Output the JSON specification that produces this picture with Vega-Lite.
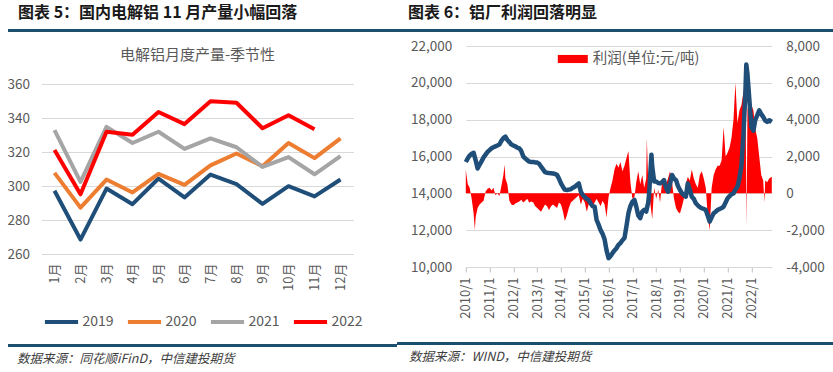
{
  "$schema": "https://vega.github.io/schema/vega-lite/v6.json",
  "background": "white",
  "padding": {"left": 7, "top": 5, "right": 0, "bottom": 0},
  "spacing": 0,
  "resolve": {"scale": {"color": "independent", "strokeWidth": "independent"}, "legend": {"color": "independent", "strokeWidth": "independent"}},
  "config": {
    "view": {"stroke": null},
    "concat": {"spacing": 0},
    "font": "Noto Sans CJK SC",
    "axis": {"labelFont": "Noto Sans CJK SC"},
    "legend": {"labelFont": "Noto Sans CJK SC"}
  },
  "datasets": {
    "prod": [
      {"year": "2019", "month": "1月", "value": 297.2}, {"year": "2019", "month": "2月", "value": 268.5}, {"year": "2019", "month": "3月", "value": 298.5}, {"year": "2019", "month": "4月", "value": 289.3}, {"year": "2019", "month": "5月", "value": 304.4}, {"year": "2019", "month": "6月", "value": 293.3}, {"year": "2019", "month": "7月", "value": 306.7}, {"year": "2019", "month": "8月", "value": 301.1}, {"year": "2019", "month": "9月", "value": 289.5}, {"year": "2019", "month": "10月", "value": 299.9}, {"year": "2019", "month": "11月", "value": 293.9}, {"year": "2019", "month": "12月", "value": 303.8},
      {"year": "2020", "month": "1月", "value": 307.7}, {"year": "2020", "month": "2月", "value": 287.3}, {"year": "2020", "month": "3月", "value": 303.8}, {"year": "2020", "month": "4月", "value": 296.2}, {"year": "2020", "month": "5月", "value": 307.1}, {"year": "2020", "month": "6月", "value": 300.7}, {"year": "2020", "month": "7月", "value": 312.1}, {"year": "2020", "month": "8月", "value": 319.1}, {"year": "2020", "month": "9月", "value": 311.6}, {"year": "2020", "month": "10月", "value": 325.3}, {"year": "2020", "month": "11月", "value": 316.4}, {"year": "2020", "month": "12月", "value": 328.0},
      {"year": "2021", "month": "1月", "value": 332.9}, {"year": "2021", "month": "2月", "value": 302.4}, {"year": "2021", "month": "3月", "value": 334.8}, {"year": "2021", "month": "4月", "value": 325.3}, {"year": "2021", "month": "5月", "value": 331.9}, {"year": "2021", "month": "6月", "value": 321.8}, {"year": "2021", "month": "7月", "value": 328.0}, {"year": "2021", "month": "8月", "value": 322.8}, {"year": "2021", "month": "9月", "value": 311.2}, {"year": "2021", "month": "10月", "value": 317.0}, {"year": "2021", "month": "11月", "value": 306.9}, {"year": "2021", "month": "12月", "value": 317.6},
      {"year": "2022", "month": "1月", "value": 321.2}, {"year": "2022", "month": "2月", "value": 295.1}, {"year": "2022", "month": "3月", "value": 331.9}, {"year": "2022", "month": "4月", "value": 330.2}, {"year": "2022", "month": "5月", "value": 343.5}, {"year": "2022", "month": "6月", "value": 336.4}, {"year": "2022", "month": "7月", "value": 349.9}, {"year": "2022", "month": "8月", "value": 349.0}, {"year": "2022", "month": "9月", "value": 334.0}, {"year": "2022", "month": "10月", "value": 341.6}, {"year": "2022", "month": "11月", "value": 333.4}
    ],
    "price": [
      {"d": "2010/01/01", "v": 15700}, {"d": "2010/02/01", "v": 15900}, {"d": "2010/03/01", "v": 16050}, {"d": "2010/04/01", "v": 16150}, {"d": "2010/05/01", "v": 16200}, {"d": "2010/06/01", "v": 15800}, {"d": "2010/07/01", "v": 15350}, {"d": "2010/08/01", "v": 15550}, {"d": "2010/09/01", "v": 15750}, {"d": "2010/10/01", "v": 15950}, {"d": "2010/11/01", "v": 16100}, {"d": "2010/12/01", "v": 16250},
      {"d": "2011/01/01", "v": 16350}, {"d": "2011/02/01", "v": 16450}, {"d": "2011/03/01", "v": 16500}, {"d": "2011/04/01", "v": 16550}, {"d": "2011/05/01", "v": 16600}, {"d": "2011/06/01", "v": 16650}, {"d": "2011/07/01", "v": 16850}, {"d": "2011/08/01", "v": 17000}, {"d": "2011/09/01", "v": 17080}, {"d": "2011/10/01", "v": 16900}, {"d": "2011/11/01", "v": 16780}, {"d": "2011/12/01", "v": 16650},
      {"d": "2012/01/01", "v": 16600}, {"d": "2012/02/01", "v": 16550}, {"d": "2012/03/01", "v": 16480}, {"d": "2012/04/01", "v": 16440}, {"d": "2012/05/01", "v": 16300}, {"d": "2012/06/01", "v": 16000}, {"d": "2012/07/01", "v": 15900}, {"d": "2012/08/01", "v": 15800}, {"d": "2012/09/01", "v": 15720}, {"d": "2012/10/01", "v": 15700}, {"d": "2012/11/01", "v": 15700}, {"d": "2012/12/01", "v": 15680},
      {"d": "2013/01/01", "v": 15670}, {"d": "2013/02/01", "v": 15600}, {"d": "2013/03/01", "v": 15450}, {"d": "2013/04/01", "v": 15300}, {"d": "2013/05/01", "v": 15150}, {"d": "2013/06/01", "v": 15120}, {"d": "2013/07/01", "v": 15100}, {"d": "2013/08/01", "v": 15090}, {"d": "2013/09/01", "v": 15080}, {"d": "2013/10/01", "v": 15050}, {"d": "2013/11/01", "v": 15000}, {"d": "2013/12/01", "v": 14800},
      {"d": "2014/01/01", "v": 14540}, {"d": "2014/02/01", "v": 14350}, {"d": "2014/03/01", "v": 14200}, {"d": "2014/04/01", "v": 14180}, {"d": "2014/05/01", "v": 14200}, {"d": "2014/06/01", "v": 14220}, {"d": "2014/07/01", "v": 14300}, {"d": "2014/08/01", "v": 14360}, {"d": "2014/09/01", "v": 14450}, {"d": "2014/10/01", "v": 14540}, {"d": "2014/11/01", "v": 14100}, {"d": "2014/12/01", "v": 13910},
      {"d": "2015/01/01", "v": 13800}, {"d": "2015/02/01", "v": 13700}, {"d": "2015/03/01", "v": 13640}, {"d": "2015/04/01", "v": 13450}, {"d": "2015/05/01", "v": 13300}, {"d": "2015/06/01", "v": 13280}, {"d": "2015/07/01", "v": 12560}, {"d": "2015/08/01", "v": 12300}, {"d": "2015/09/01", "v": 12000}, {"d": "2015/10/01", "v": 11800}, {"d": "2015/11/01", "v": 11500}, {"d": "2015/12/01", "v": 10900},
      {"d": "2016/01/01", "v": 10480}, {"d": "2016/02/01", "v": 10600}, {"d": "2016/03/01", "v": 10750}, {"d": "2016/04/01", "v": 10900}, {"d": "2016/05/01", "v": 11020}, {"d": "2016/06/01", "v": 11200}, {"d": "2016/07/01", "v": 11300}, {"d": "2016/08/01", "v": 11450}, {"d": "2016/09/01", "v": 11570}, {"d": "2016/10/01", "v": 12200}, {"d": "2016/11/01", "v": 12920}, {"d": "2016/12/01", "v": 13300},
      {"d": "2017/01/01", "v": 13550}, {"d": "2017/02/01", "v": 13640}, {"d": "2017/03/01", "v": 13280}, {"d": "2017/04/01", "v": 12800}, {"d": "2017/05/01", "v": 12650}, {"d": "2017/06/01", "v": 13000}, {"d": "2017/07/01", "v": 13100}, {"d": "2017/08/01", "v": 13010}, {"d": "2017/09/01", "v": 13500}, {"d": "2017/09/15", "v": 14000}, {"d": "2017/10/01", "v": 15000}, {"d": "2017/10/20", "v": 16100}, {"d": "2017/11/01", "v": 15450}, {"d": "2017/12/01", "v": 14640},
      {"d": "2018/01/01", "v": 14640}, {"d": "2018/02/01", "v": 14560}, {"d": "2018/03/01", "v": 14540}, {"d": "2018/04/01", "v": 14600}, {"d": "2018/05/01", "v": 14720}, {"d": "2018/06/01", "v": 14300}, {"d": "2018/07/01", "v": 14090}, {"d": "2018/08/01", "v": 14500}, {"d": "2018/09/01", "v": 15000}, {"d": "2018/10/01", "v": 14800}, {"d": "2018/11/01", "v": 14720}, {"d": "2018/12/01", "v": 14400},
      {"d": "2019/01/01", "v": 14180}, {"d": "2019/02/01", "v": 14000}, {"d": "2019/03/01", "v": 13900}, {"d": "2019/04/01", "v": 13820}, {"d": "2019/05/01", "v": 14540}, {"d": "2019/06/01", "v": 14200}, {"d": "2019/07/01", "v": 13820}, {"d": "2019/08/01", "v": 13700}, {"d": "2019/09/01", "v": 13460}, {"d": "2019/10/01", "v": 13350}, {"d": "2019/11/01", "v": 13250}, {"d": "2019/12/01", "v": 13190},
      {"d": "2020/01/01", "v": 13150}, {"d": "2020/02/01", "v": 13100}, {"d": "2020/03/01", "v": 12800}, {"d": "2020/04/01", "v": 12470}, {"d": "2020/05/01", "v": 12700}, {"d": "2020/06/01", "v": 12920}, {"d": "2020/07/01", "v": 13000}, {"d": "2020/08/01", "v": 13100}, {"d": "2020/09/01", "v": 13150}, {"d": "2020/10/01", "v": 13200}, {"d": "2020/11/01", "v": 13280}, {"d": "2020/12/01", "v": 13500},
      {"d": "2021/01/01", "v": 13730}, {"d": "2021/02/01", "v": 13850}, {"d": "2021/03/01", "v": 13950}, {"d": "2021/04/01", "v": 14000}, {"d": "2021/05/01", "v": 14200}, {"d": "2021/06/01", "v": 14360}, {"d": "2021/07/01", "v": 14800}, {"d": "2021/08/01", "v": 15500}, {"d": "2021/09/01", "v": 17200}, {"d": "2021/10/01", "v": 19500}, {"d": "2021/10/15", "v": 21000}, {"d": "2021/11/01", "v": 20500}, {"d": "2021/12/01", "v": 19060},
      {"d": "2022/01/01", "v": 17610}, {"d": "2022/02/01", "v": 17400}, {"d": "2022/03/01", "v": 17970}, {"d": "2022/04/01", "v": 18240}, {"d": "2022/05/01", "v": 18510}, {"d": "2022/06/01", "v": 18300}, {"d": "2022/07/01", "v": 18150}, {"d": "2022/08/01", "v": 17950}, {"d": "2022/09/01", "v": 17880}, {"d": "2022/10/01", "v": 17970}, {"d": "2022/11/01", "v": 17900}, {"d": "2022/11/10", "v": 17880}
    ],
    "profit": [
      {"d": "2010/01/01", "v": 1300}, {"d": "2010/01/15", "v": 900}, {"d": "2010/02/01", "v": 500}, {"d": "2010/03/01", "v": 300}, {"d": "2010/04/01", "v": -300}, {"d": "2010/05/01", "v": -1100}, {"d": "2010/05/20", "v": -1990}, {"d": "2010/06/01", "v": -1300}, {"d": "2010/07/01", "v": -800}, {"d": "2010/08/01", "v": -600}, {"d": "2010/09/01", "v": -500}, {"d": "2010/10/01", "v": -400}, {"d": "2010/11/01", "v": 100}, {"d": "2010/12/01", "v": 250},
      {"d": "2011/01/01", "v": 300}, {"d": "2011/02/01", "v": 150}, {"d": "2011/03/01", "v": 300}, {"d": "2011/04/01", "v": -100}, {"d": "2011/05/01", "v": 0}, {"d": "2011/06/01", "v": -150}, {"d": "2011/07/01", "v": 400}, {"d": "2011/08/01", "v": 1000}, {"d": "2011/08/20", "v": 1550}, {"d": "2011/09/01", "v": 800}, {"d": "2011/10/01", "v": 500}, {"d": "2011/11/01", "v": -400}, {"d": "2011/12/01", "v": -600},
      {"d": "2012/01/01", "v": -650}, {"d": "2012/02/01", "v": -550}, {"d": "2012/03/01", "v": -500}, {"d": "2012/04/01", "v": -450}, {"d": "2012/05/01", "v": -350}, {"d": "2012/06/01", "v": -500}, {"d": "2012/07/01", "v": -400}, {"d": "2012/08/01", "v": -300}, {"d": "2012/09/01", "v": -500}, {"d": "2012/10/01", "v": -450}, {"d": "2012/11/01", "v": -500}, {"d": "2012/12/01", "v": -700},
      {"d": "2013/01/01", "v": -800}, {"d": "2013/02/01", "v": -900}, {"d": "2013/03/01", "v": -1000}, {"d": "2013/04/01", "v": -800}, {"d": "2013/05/01", "v": -600}, {"d": "2013/06/01", "v": -700}, {"d": "2013/07/01", "v": -900}, {"d": "2013/08/01", "v": -700}, {"d": "2013/09/01", "v": -600}, {"d": "2013/10/01", "v": -700}, {"d": "2013/11/01", "v": -800}, {"d": "2013/12/01", "v": -500},
      {"d": "2014/01/01", "v": -600}, {"d": "2014/02/01", "v": -1000}, {"d": "2014/03/01", "v": -1500}, {"d": "2014/04/01", "v": -1200}, {"d": "2014/05/01", "v": -800}, {"d": "2014/06/01", "v": -500}, {"d": "2014/07/01", "v": -400}, {"d": "2014/08/01", "v": -300}, {"d": "2014/09/01", "v": -200}, {"d": "2014/10/01", "v": -100}, {"d": "2014/11/01", "v": -600}, {"d": "2014/12/01", "v": -300},
      {"d": "2015/01/01", "v": -500}, {"d": "2015/02/01", "v": -1000}, {"d": "2015/03/01", "v": -600}, {"d": "2015/04/01", "v": -400}, {"d": "2015/05/01", "v": -700}, {"d": "2015/06/01", "v": -500}, {"d": "2015/07/01", "v": -300}, {"d": "2015/08/01", "v": -500}, {"d": "2015/09/01", "v": -700}, {"d": "2015/10/01", "v": -400}, {"d": "2015/11/01", "v": -600}, {"d": "2015/12/01", "v": -1300},
      {"d": "2016/01/01", "v": -200}, {"d": "2016/02/01", "v": 300}, {"d": "2016/03/01", "v": 700}, {"d": "2016/04/01", "v": 1300}, {"d": "2016/05/01", "v": 1600}, {"d": "2016/06/01", "v": 1400}, {"d": "2016/07/01", "v": 1700}, {"d": "2016/08/01", "v": 1200}, {"d": "2016/09/01", "v": 1500}, {"d": "2016/10/01", "v": 1900}, {"d": "2016/11/01", "v": 2300}, {"d": "2016/12/01", "v": 600},
      {"d": "2017/01/01", "v": -300}, {"d": "2017/02/01", "v": -200}, {"d": "2017/03/01", "v": 600}, {"d": "2017/04/01", "v": 1200}, {"d": "2017/05/01", "v": 500}, {"d": "2017/06/01", "v": 1000}, {"d": "2017/07/01", "v": 300}, {"d": "2017/08/01", "v": 800}, {"d": "2017/08/10", "v": 3000}, {"d": "2017/09/01", "v": 600}, {"d": "2017/10/01", "v": -500}, {"d": "2017/11/01", "v": -1400}, {"d": "2017/12/01", "v": 300},
      {"d": "2018/01/01", "v": -300}, {"d": "2018/02/01", "v": 200}, {"d": "2018/03/01", "v": -500}, {"d": "2018/04/01", "v": 600}, {"d": "2018/05/01", "v": 700}, {"d": "2018/06/01", "v": 500}, {"d": "2018/07/01", "v": 800}, {"d": "2018/08/01", "v": 1200}, {"d": "2018/09/01", "v": 600}, {"d": "2018/10/01", "v": -300}, {"d": "2018/11/01", "v": -800}, {"d": "2018/12/01", "v": -1000},
      {"d": "2019/01/01", "v": -1100}, {"d": "2019/02/01", "v": -700}, {"d": "2019/03/01", "v": -300}, {"d": "2019/04/01", "v": 500}, {"d": "2019/05/01", "v": 900}, {"d": "2019/06/01", "v": 700}, {"d": "2019/07/01", "v": 1300}, {"d": "2019/08/01", "v": 800}, {"d": "2019/09/01", "v": 500}, {"d": "2019/10/01", "v": 300}, {"d": "2019/11/01", "v": 1000}, {"d": "2019/12/01", "v": 1200},
      {"d": "2020/01/01", "v": 800}, {"d": "2020/02/01", "v": 300}, {"d": "2020/03/01", "v": -1200}, {"d": "2020/04/01", "v": -2000}, {"d": "2020/05/01", "v": 300}, {"d": "2020/06/01", "v": 1000}, {"d": "2020/07/01", "v": 1300}, {"d": "2020/08/01", "v": 1500}, {"d": "2020/09/01", "v": 1500}, {"d": "2020/10/01", "v": 1800}, {"d": "2020/11/01", "v": 3600}, {"d": "2020/12/01", "v": 2000},
      {"d": "2021/01/01", "v": 2200}, {"d": "2021/02/01", "v": 2500}, {"d": "2021/03/01", "v": 3000}, {"d": "2021/04/01", "v": 4000}, {"d": "2021/05/01", "v": 6000}, {"d": "2021/06/01", "v": 3800}, {"d": "2021/07/01", "v": 4500}, {"d": "2021/08/01", "v": 4800}, {"d": "2021/09/01", "v": 5500}, {"d": "2021/10/01", "v": 5800}, {"d": "2021/10/20", "v": -1800}, {"d": "2021/11/01", "v": 4500}, {"d": "2021/12/01", "v": 5300},
      {"d": "2022/01/01", "v": 4800}, {"d": "2022/02/01", "v": 4500}, {"d": "2022/03/01", "v": 3500}, {"d": "2022/04/01", "v": 3000}, {"d": "2022/05/01", "v": 2000}, {"d": "2022/06/01", "v": 1000}, {"d": "2022/07/01", "v": 700}, {"d": "2022/07/20", "v": -500}, {"d": "2022/08/01", "v": 700}, {"d": "2022/09/01", "v": 600}, {"d": "2022/10/01", "v": 800}, {"d": "2022/11/10", "v": 900}
    ]
  },
  "hconcat": [
    {
      "spacing": 14,
      "center": true,
      "resolve": {"scale": {"color": "independent", "strokeWidth": "independent"}, "legend": {"color": "independent", "strokeWidth": "independent"}},
      "vconcat": [
        {
          "spacing": 16,
          "center": true,
          "resolve": {"scale": {"color": "independent", "strokeWidth": "independent"}, "legend": {"color": "independent", "strokeWidth": "independent"}},
          "vconcat": [
            {
              "width": 389, "height": 3,
              "view": {"fill": "#1B4F6E", "stroke": null},
              "title": {"text": "图表 5：国内电解铝 11 月产量小幅回落", "anchor": "start", "fontSize": 16, "fontWeight": "bold", "color": "#1a1a1a", "offset": 8, "dx": 10},
              "data": {"values": []},
              "mark": {"type": "point", "opacity": 0},
              "encoding": {}
            },
            {
              "width": 312, "height": 170,
              "title": {"text": "电解铝月度产量-季节性", "fontSize": 15, "fontWeight": "normal", "color": "#595959", "anchor": "middle", "offset": 14},
              "data": {"name": "prod"},
              "mark": {"type": "line", "strokeJoin": "round"},
              "encoding": {
                "x": {"field": "month", "type": "ordinal", "sort": ["1月", "2月", "3月", "4月", "5月", "6月", "7月", "8月", "9月", "10月", "11月", "12月"], "scale": {"type": "point", "padding": 0.5},
                      "axis": {"title": null, "labelAngle": -90, "domain": false, "ticks": false, "grid": false, "labelPadding": 9, "labelFontSize": 13, "labelColor": "#595959"}},
                "y": {"field": "value", "type": "quantitative", "scale": {"domain": [260, 360], "nice": false, "zero": false},
                      "axis": {"title": null, "values": [260, 280, 300, 320, 340, 360], "domain": false, "ticks": false, "grid": true, "gridColor": "#D9D9D9", "labelPadding": 12, "labelFontSize": 13.5, "labelColor": "#595959"}},
                "color": {"field": "year", "type": "nominal", "scale": {"domain": ["2019", "2020", "2021", "2022"], "range": ["#1F4E79", "#ED7D31", "#A5A5A5", "#FF0000"]},
                          "legend": {"orient": "none", "legendX": 1, "legendY": 219, "direction": "horizontal", "columns": 4, "title": null, "padding": 0, "symbolType": "stroke", "symbolStrokeWidth": 4.5, "symbolSize": 1100, "labelFontSize": 14, "labelColor": "#595959", "labelOffset": 2, "columnPadding": 5}},
                "strokeWidth": {"field": "year", "type": "nominal", "scale": {"domain": ["2019", "2020", "2021", "2022"], "range": [4, 4, 4, 5.5]}, "legend": null}
              }
            }
          ]
        },
        {
          "width": 389, "height": 3,
          "view": {"fill": "#1B4F6E", "stroke": null},
          "title": {"text": "数据来源：同花顺iFinD，中信建投期货", "orient": "bottom", "anchor": "start", "fontSize": 12.5, "fontWeight": "normal", "fontStyle": "italic", "color": "#404040", "offset": 6, "dx": 9},
          "data": {"values": []},
          "mark": {"type": "point", "opacity": 0},
          "encoding": {}
        }
      ]
    },
    {
      "spacing": 23,
      "center": true,
      "resolve": {"scale": {"color": "independent", "strokeWidth": "independent"}, "legend": {"color": "independent", "strokeWidth": "independent"}},
      "vconcat": [
        {
          "spacing": 7,
          "center": true,
          "resolve": {"scale": {"color": "independent", "strokeWidth": "independent"}, "legend": {"color": "independent", "strokeWidth": "independent"}},
          "vconcat": [
            {
              "width": 496, "height": 3,
              "view": {"fill": "#1B4F6E", "stroke": null},
              "title": {"text": "图表 6：铝厂利润回落明显", "anchor": "start", "fontSize": 16, "fontWeight": "bold", "color": "#1a1a1a", "offset": 8, "dx": 11},
              "data": {"values": []},
              "mark": {"type": "point", "opacity": 0},
              "encoding": {}
            },
            {
              "width": 306, "height": 221,
              "encoding": {
                "x": {"field": "d", "type": "temporal",
                      "scale": {"domain": [{"year": 2010, "month": 1, "date": 1}, {"year": 2022, "month": 11, "date": 10}]},
                      "axis": {"title": null, "values": [{"year": 2010, "month": 1, "date": 1}, {"year": 2011, "month": 1, "date": 1}, {"year": 2012, "month": 1, "date": 1}, {"year": 2013, "month": 1, "date": 1}, {"year": 2014, "month": 1, "date": 1}, {"year": 2015, "month": 1, "date": 1}, {"year": 2016, "month": 1, "date": 1}, {"year": 2017, "month": 1, "date": 1}, {"year": 2018, "month": 1, "date": 1}, {"year": 2019, "month": 1, "date": 1}, {"year": 2020, "month": 1, "date": 1}, {"year": 2021, "month": 1, "date": 1}, {"year": 2022, "month": 1, "date": 1}],
                               "format": "%Y/%-m", "labelAngle": -90, "labelOverlap": false, "labelFlush": false, "labelBound": false, "grid": false, "domain": true, "domainColor": "#D9D9D9", "ticks": true, "tickSize": 5, "tickColor": "#BFBFBF", "labelPadding": 5, "labelFontSize": 13, "labelColor": "#595959"}}
              },
              "layer": [
                {
                  "data": {"name": "profit"},
                  "mark": {"type": "area", "interpolate": "linear"},
                  "encoding": {
                    "y": {"field": "v", "type": "quantitative", "scale": {"domain": [-4000, 8000], "nice": false},
                          "axis": {"orient": "right", "title": null, "values": [-4000, -2000, 0, 2000, 4000, 6000, 8000], "grid": false, "domain": false, "ticks": false, "labelPadding": 14, "labelFontSize": 13.5, "labelColor": "#595959", "labelExpr": "replace(format(datum.value, ',.0f'), '−', '-')"}},
                    "color": {"datum": "利润(单位:元/吨)", "type": "nominal", "scale": {"range": ["#FF0000"]},
                              "legend": {"orient": "none", "legendX": 92, "legendY": -2, "title": null, "padding": 0, "symbolType": "M-1,-0.27H1V0.27H-1Z", "symbolSize": 900, "symbolStrokeWidth": 0, "labelFontSize": 14.5, "labelColor": "#595959", "labelOffset": 5}}
                  }
                },
                {
                  "data": {"name": "price"},
                  "mark": {"type": "line", "color": "#1F4E79", "strokeWidth": 4.5, "strokeJoin": "round"},
                  "encoding": {
                    "y": {"field": "v", "type": "quantitative", "scale": {"domain": [10000, 22000], "nice": false, "zero": false},
                          "axis": {"orient": "left", "title": null, "values": [10000, 12000, 14000, 16000, 18000, 20000, 22000], "labelExpr": "format(datum.value, ',.0f')", "grid": true, "gridColor": "#D9D9D9", "domain": false, "ticks": false, "labelPadding": 14, "labelFontSize": 13.5, "labelColor": "#595959"}}
                  }
                }
              ],
              "resolve": {"scale": {"y": "independent"}}
            }
          ]
        },
        {
          "width": 496, "height": 3,
          "view": {"fill": "#1B4F6E", "stroke": null},
          "title": {"text": "数据来源：WIND，中信建投期货", "orient": "bottom", "anchor": "start", "fontSize": 12.5, "fontWeight": "normal", "fontStyle": "italic", "color": "#404040", "offset": 6, "dx": 12},
          "data": {"values": []},
          "mark": {"type": "point", "opacity": 0},
          "encoding": {}
        }
      ]
    }
  ]
}
